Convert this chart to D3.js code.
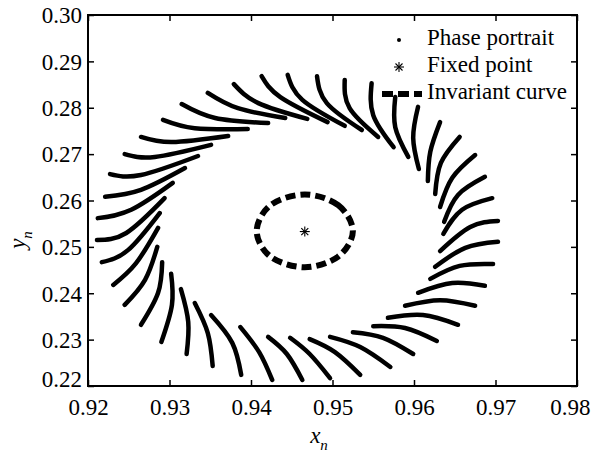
<!DOCTYPE html>
<html><head><meta charset="utf-8">
<script src="https://cdn.jsdelivr.net/npm/d3@7/dist/d3.min.js"></script>
<style>body{margin:0;background:#fff}text{font-family:"Liberation Serif","Times New Roman",serif;fill:#000}</style>
</head><body><svg id="c" width="592" height="461"></svg>
<script>
// ---- data ----
const xTicks = [0.92, 0.93, 0.94, 0.95, 0.96, 0.97, 0.98];
const yTicks = [0.22, 0.23, 0.24, 0.25, 0.26, 0.27, 0.28, 0.29, 0.30];
const legendLabels = ["Phase portrait", "Fixed point", "Invariant curve"];
const fixedPoint = [0.9466, 0.2533];
// invariant curve points (read around the dashed closed curve)
const invariantCurve = [
  [0.9525,0.2534],[0.9507,0.2590],[0.9466,0.2613],[0.9424,0.2590],
  [0.9407,0.2534],[0.9424,0.2479],[0.9466,0.2456],[0.9507,0.2479]];
// phase-portrait strands: outer end, middle, inner end
const strandStart = [
  [0.9221,0.2608],[0.9227,0.2657],[0.9245,0.2700],[0.9265,0.2737],[0.9292,0.2774],
  [0.9315,0.2808],[0.9347,0.2832],[0.9379,0.2851],[0.9413,0.2868],[0.9445,0.2871],
  [0.9481,0.2868],[0.9515,0.2860],[0.9548,0.2853],[0.9577,0.2823],[0.9605,0.2802],
  [0.9632,0.2769],[0.9656,0.2737],[0.9675,0.2698],[0.9687,0.2651],[0.9696,0.2605],
  [0.9703,0.2556],[0.9703,0.2511],[0.9697,0.2463],[0.9687,0.2416],[0.9675,0.2373],
  [0.9654,0.2332],[0.9628,0.2297],[0.9599,0.2269],[0.9571,0.2241],[0.9534,0.2224],
  [0.9497,0.2217],[0.9463,0.2213],[0.9426,0.2213],[0.9388,0.2224],[0.9353,0.2243],
  [0.9321,0.2269],[0.9290,0.2295],[0.9265,0.2332],[0.9245,0.2375],[0.9231,0.2418],
  [0.9217,0.2467],[0.9211,0.2515],[0.9212,0.2562]];
const strandMid = [
  [0.9265,0.2623],[0.9265,0.2655],[0.9282,0.2694],[0.9303,0.2726],[0.9331,0.2756],
  [0.9356,0.2778],[0.9384,0.2799],[0.9409,0.2810],[0.9436,0.2823],[0.9463,0.2817],
  [0.9493,0.2810],[0.9521,0.2799],[0.9550,0.2784],[0.9577,0.2758],[0.9599,0.2735],
  [0.9620,0.2705],[0.9633,0.2681],[0.9647,0.2649],[0.9654,0.2612],[0.9659,0.2580],
  [0.9669,0.2543],[0.9663,0.2498],[0.9656,0.2459],[0.9647,0.2422],[0.9632,0.2385],
  [0.9611,0.2353],[0.9589,0.2325],[0.9562,0.2304],[0.9534,0.2284],[0.9503,0.2273],
  [0.9472,0.2269],[0.9444,0.2269],[0.9410,0.2273],[0.9377,0.2293],[0.9347,0.2314],
  [0.9323,0.2338],[0.9303,0.2375],[0.9286,0.2401],[0.9270,0.2429],[0.9259,0.2465],
  [0.9249,0.2493],[0.9247,0.2530],[0.9253,0.2580]];
const strandEnd = [
  [0.9319,0.2670],[0.9335,0.2696],[0.9351,0.2720],[0.9372,0.2739],[0.9396,0.2754],
  [0.9421,0.2767],[0.9442,0.2778],[0.9469,0.2776],[0.9494,0.2769],[0.9515,0.2761],
  [0.9536,0.2752],[0.9556,0.2737],[0.9575,0.2715],[0.9593,0.2694],[0.9606,0.2668],
  [0.9617,0.2642],[0.9626,0.2614],[0.9632,0.2586],[0.9637,0.2554],[0.9636,0.2528],
  [0.9632,0.2491],[0.9626,0.2457],[0.9620,0.2431],[0.9605,0.2401],[0.9589,0.2373],
  [0.9568,0.2347],[0.9550,0.2329],[0.9525,0.2316],[0.9497,0.2306],[0.9472,0.2301],
  [0.9448,0.2304],[0.9421,0.2306],[0.9387,0.2327],[0.9351,0.2353],[0.9331,0.2379],
  [0.9314,0.2409],[0.9302,0.2442],[0.9291,0.2467],[0.9285,0.2500],[0.9286,0.2541],
  [0.9288,0.2573],[0.9294,0.2605],[0.9304,0.2638]];

// ---- chart ----
const svg = d3.select("#c");
const L = 88, R = 577, T = 15, B = 386;
const x = d3.scaleLinear().domain([0.92, 0.98]).range([L, R]);
const y = d3.scaleLinear().domain([0.22, 0.30]).range([B, T]);
const fmt = d3.format(".2f");

// strands
const line = d3.line().x(d => x(d[0])).y(d => y(d[1])).curve(d3.curveNatural);
const strands = strandStart.map((s, i) => [s, strandMid[i], strandEnd[i]]);
svg.append("g").selectAll("path").data(strands).join("path")
  .attr("d", line).attr("fill", "none").attr("stroke", "#000")
  .attr("stroke-width", 4.5).attr("stroke-linecap", "round");

// invariant curve
const closed = d3.line().x(d => x(d[0])).y(d => y(d[1])).curve(d3.curveCardinalClosed.tension(0));
svg.append("path").datum(invariantCurve).attr("d", closed)
  .attr("fill", "none").attr("stroke", "#000").attr("stroke-width", 6)
  .attr("stroke-dasharray", "10,5");

// asterisk marker
function asterisk(g, cx, cy, r) {
  const a = [[r,0],[0,r],[r*0.7,r*0.7],[r*0.7,-r*0.7]];
  a.forEach(([dx, dy]) => g.append("line").attr("x1", cx-dx).attr("y1", cy-dy)
    .attr("x2", cx+dx).attr("y2", cy+dy).attr("stroke", "#000").attr("stroke-width", 1.1));
}
asterisk(svg, x(fixedPoint[0]), y(fixedPoint[1]), 5);

// axes (inward ticks on all four sides)
const ax = svg.append("g");
const gB = ax.append("g").attr("transform", `translate(0,${B})`)
  .call(d3.axisBottom(x).tickValues(xTicks).tickSize(-6).tickSizeOuter(0).tickFormat(fmt));
ax.append("g").attr("transform", `translate(0,${T})`)
  .call(d3.axisTop(x).tickValues(xTicks).tickSize(-6).tickSizeOuter(0).tickFormat(""));
const gL = ax.append("g").attr("transform", `translate(${L},0)`)
  .call(d3.axisLeft(y).tickValues(yTicks).tickSize(-6).tickSizeOuter(0).tickFormat(fmt));
ax.append("g").attr("transform", `translate(${R},0)`)
  .call(d3.axisRight(y).tickValues(yTicks).tickSize(-6).tickSizeOuter(0).tickFormat(""));
ax.selectAll(".domain").remove();
ax.selectAll(".tick line").attr("stroke", "#000").attr("stroke-width", 1.5);
ax.selectAll(".tick text").attr("font-size", 23).attr("font-family", "Liberation Serif, serif").attr("fill", "#000");
gB.selectAll(".tick text").attr("y", 12).attr("dy", "0.75em");
gB.selectAll(".tick text").filter(d => d === 0.98).attr("text-anchor", "end").attr("x", 13);
gL.selectAll(".tick text").attr("x", -6).attr("dy", "0.34em")
  .filter(d => d === 0.22).attr("dy", "0.0em");
svg.append("rect").attr("x", L).attr("y", T).attr("width", R-L).attr("height", B-T)
  .attr("fill", "none").attr("stroke", "#000").attr("stroke-width", 2);

// axis titles
const xt = svg.append("text").attr("x", 319).attr("y", 443).attr("font-size", 23)
  .attr("font-style", "italic").attr("text-anchor", "middle");
xt.append("tspan").text("x");
xt.append("tspan").attr("font-size", 15).attr("dy", 7).text("n");
const yt = svg.append("text").attr("transform", "translate(25,240) rotate(-90)")
  .attr("font-size", 23).attr("font-style", "italic").attr("text-anchor", "middle");
yt.append("tspan").text("y");
yt.append("tspan").attr("font-size", 15).attr("dy", 7).text("n");

// legend
const lg = svg.append("g");
const ly = [45, 72, 99];
lg.append("circle").attr("cx", 399).attr("cy", ly[0]-5).attr("r", 2).attr("fill", "#000");
asterisk(lg, 399, ly[1]-5, 5);
lg.append("line").attr("x1", 382).attr("x2", 422).attr("y1", ly[2]-5).attr("y2", ly[2]-5)
  .attr("stroke", "#000").attr("stroke-width", 6).attr("stroke-dasharray", "11,5");
lg.selectAll("text.lab").data(legendLabels).join("text").attr("class", "lab")
  .attr("x", 427).attr("y", (d, i) => ly[i]).attr("font-size", 23).text(d => d);
</script></body></html>
